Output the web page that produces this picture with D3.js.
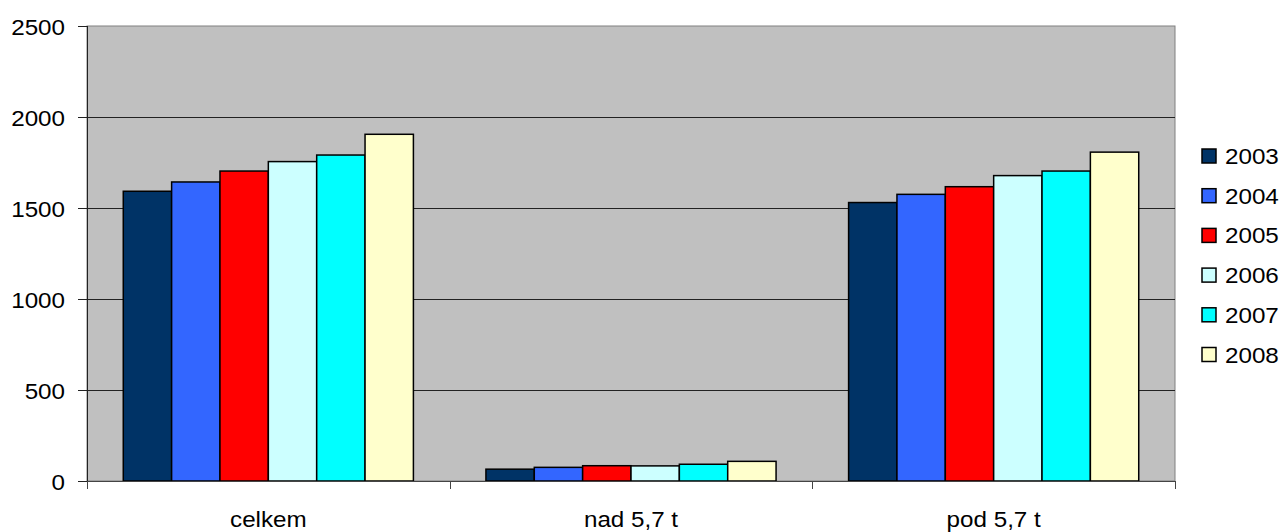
<!DOCTYPE html>
<html>
<head>
    <title>celkem / nad 5,7 t / pod 5,7 t</title>
    <style>
        body { margin: 0; background: #fff; }
        text { font-family: "Liberation Sans", Arial, sans-serif; font-size: 22px; fill: #000; }
    </style>
</head>
<body>
    <div id="chart"></div>
    <script src="https://d3js.org/d3.v7.min.js"></script>
    <script>
        // data
        const categories = ["celkem", "nad 5,7 t", "pod 5,7 t"];
        const years = ["2003", "2004", "2005", "2006", "2007", "2008"];
        const colors = ["#003366", "#3366FF", "#FF0000", "#CCFFFF", "#00FFFF", "#FFFFCC"];
        const v2003 = [1592, 65, 1530];
        const v2004 = [1643, 75, 1575];
        const v2005 = [1703, 84, 1617];
        const v2006 = [1755, 83, 1678];
        const v2007 = [1791, 92, 1703];
        const v2008 = [1905, 108, 1807];
        const series = [v2003, v2004, v2005, v2006, v2007, v2008];
        const yTicks = [0, 500, 1000, 1500, 2000, 2500];

        const W = 1285, H = 532;
        const plot = { left: 87, right: 1175, top: 26, bottom: 481 };
        const stretch = 1.1; // the source font is a little wider than Arial

        const svg = d3.select("#chart").append("svg")
            .attr("width", W)
            .attr("height", H);

        const x = d3.scaleBand().domain(categories).range([plot.left, plot.right]);
        // Excel-like gap width of 150%: band = 7.5 bar widths
        const barW = x.bandwidth() / 7.5;
        const y = d3.scaleLinear().domain([0, 2500]).range([plot.bottom, plot.top]);

        // plot background
        svg.append("rect")
            .attr("x", plot.left).attr("y", plot.top)
            .attr("width", plot.right - plot.left).attr("height", plot.bottom - plot.top)
            .attr("fill", "#C0C0C0")
            .attr("stroke", "#808080")
            .attr("stroke-width", 1);

        // gridlines
        svg.selectAll(".grid").data(yTicks.filter(d => d > 0 && d < 2500))
            .enter().append("line")
            .attr("x1", plot.left).attr("x2", plot.right)
            .attr("y1", d => Math.round(y(d)) + 0.5).attr("y2", d => Math.round(y(d)) + 0.5)
            .attr("stroke", "#222").attr("stroke-width", 1);

        // bars
        series.forEach((vals, s) => {
            svg.selectAll(".bar" + s).data(vals)
                .enter().append("rect")
                .attr("x", (d, i) => x(categories[i]) + barW * (0.75 + s))
                .attr("y", d => y(d))
                .attr("width", barW)
                .attr("height", d => plot.bottom - y(d))
                .attr("fill", colors[s])
                .attr("stroke", "#000")
                .attr("stroke-width", 1.5);
        });

        // y axis
        svg.append("line")
            .attr("x1", plot.left + 0.5).attr("x2", plot.left + 0.5)
            .attr("y1", plot.top).attr("y2", plot.bottom)
            .attr("stroke", "#222");
        yTicks.forEach(t => {
            const yy = Math.round(y(t)) + 0.5;
            svg.append("line")
                .attr("x1", plot.left - 9).attr("x2", plot.left)
                .attr("y1", yy).attr("y2", yy)
                .attr("stroke", "#222");
            svg.append("text")
                .attr("transform", `translate(65,${yy + 8}) scale(${stretch},1)`)
                .attr("text-anchor", "end")
                .text(t);
        });

        // x axis
        svg.append("line")
            .attr("x1", plot.left).attr("x2", plot.right)
            .attr("y1", plot.bottom + 0.5).attr("y2", plot.bottom + 0.5)
            .attr("stroke", "#444");
        const edges = categories.map(c => x(c)).concat([plot.right]);
        edges.forEach(e => {
            svg.append("line")
                .attr("x1", Math.round(e) + 0.5).attr("x2", Math.round(e) + 0.5)
                .attr("y1", plot.bottom).attr("y2", plot.bottom + 8)
                .attr("stroke", "#444");
        });
        categories.forEach(c => {
            svg.append("text")
                .attr("transform", `translate(${x(c) + x.bandwidth() / 2},527) scale(${stretch},1)`)
                .attr("text-anchor", "middle")
                .text(c);
        });

        // legend
        years.forEach((yr, i) => {
            const cy = 156 + i * 39.7;
            svg.append("rect")
                .attr("x", 1202).attr("y", cy - 7)
                .attr("width", 14).attr("height", 14)
                .attr("fill", colors[i])
                .attr("stroke", "#000")
                .attr("stroke-width", 1.5);
            svg.append("text")
                .attr("transform", `translate(1225,${cy + 8}) scale(${stretch},1)`)
                .text(yr);
        });
    </script>
</body>
</html>
